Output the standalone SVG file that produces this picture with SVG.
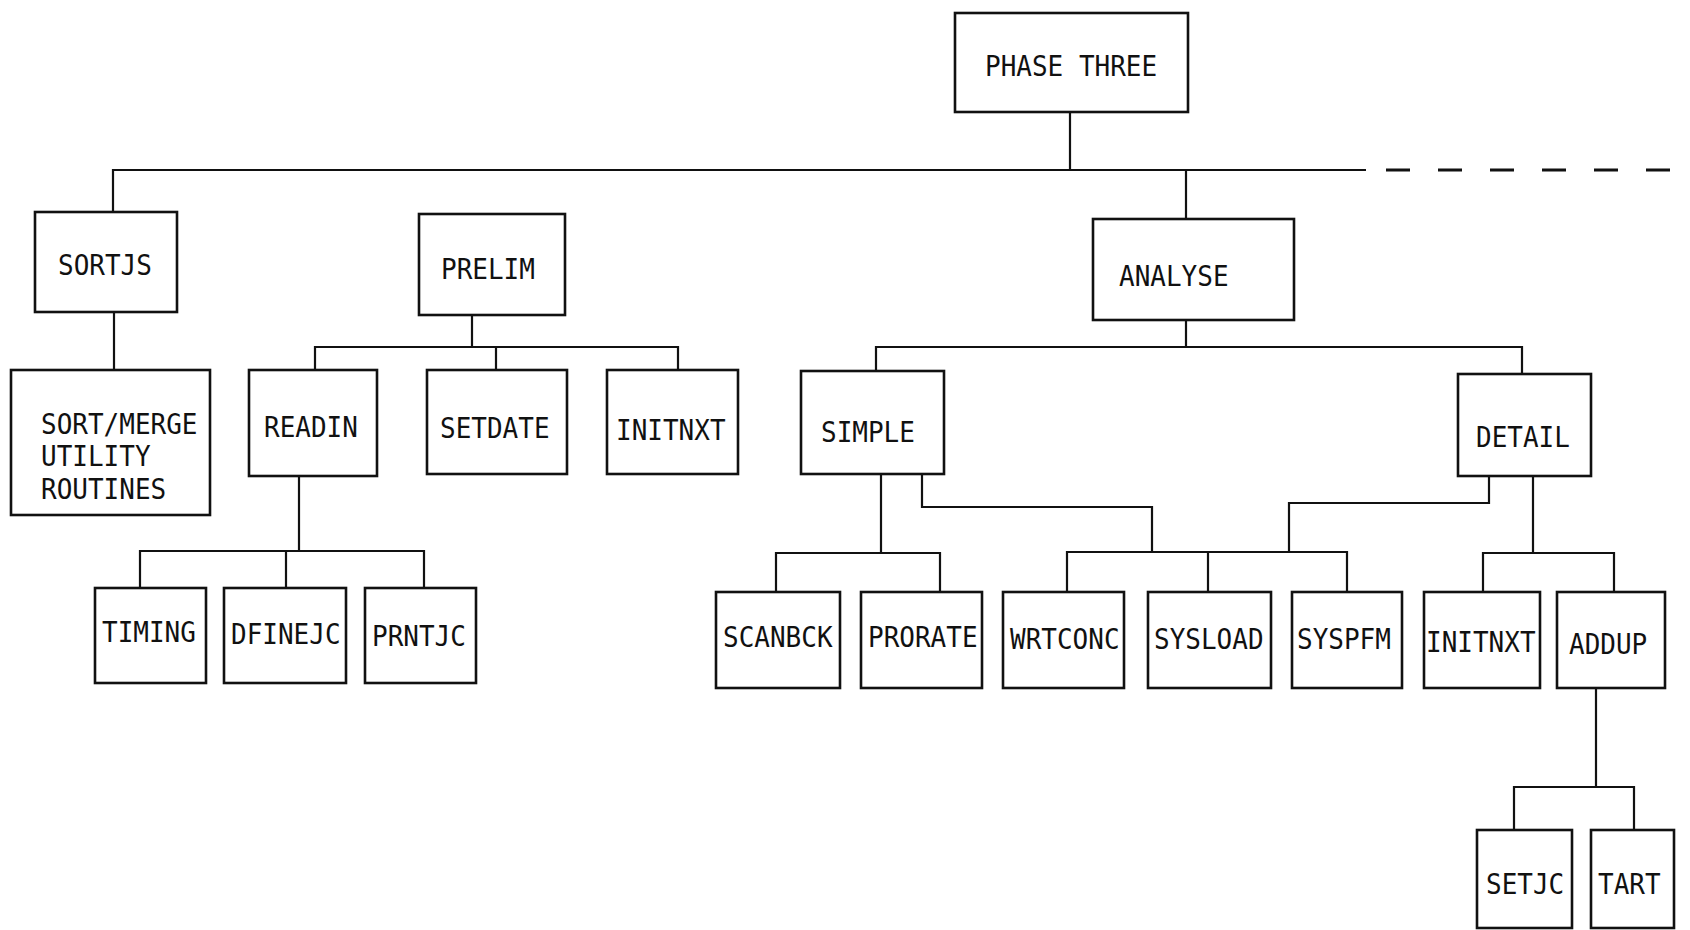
<svg xmlns="http://www.w3.org/2000/svg" width="1690" height="930" viewBox="0 0 1690 930">
  <style>
    .box { fill: #fff; stroke: #111; stroke-width: 2.6; }
    .ln { fill: none; stroke: #111; stroke-width: 2.2; stroke-linejoin: miter; }
    .dash { fill: none; stroke: #111; stroke-width: 3; stroke-dasharray: 24 28; }
    text { font-family: "DejaVu Sans Mono", "Liberation Mono", monospace; font-size: 26px; fill: #111;
           transform-box: fill-box; transform-origin: 50% 100%; transform: scaleY(1.1); }
  </style>
  <rect width="1690" height="930" fill="#fff"/>

  <!-- tree connectors -->
  <g id="connectors">
    <!-- PHASE THREE to first level -->
    <path class="ln" d="M1070,112 V170 M113,212 V170 H1366 M1186,170 V219"/>
    <path class="dash" d="M1386,170 H1690"/>
    <!-- SORTJS to utilities -->
    <path class="ln" d="M114,312 V370"/>
    <!-- PRELIM children -->
    <path class="ln" d="M472,315 V347 M315,370 V347 H678 V370 M496,347 V370"/>
    <!-- READIN children -->
    <path class="ln" d="M299,476 V551 M140,588 V551 H424 V588 M286,551 V588"/>
    <!-- ANALYSE children -->
    <path class="ln" d="M1186,320 V347 M876,371 V347 H1522 V374"/>
    <!-- SIMPLE children -->
    <path class="ln" d="M881,474 V553 M776,592 V553 H940 V592"/>
    <!-- shared routines under SIMPLE and DETAIL -->
    <path class="ln" d="M922,474 V507 H1152 V552 M1489,476 V503 H1289 V552"/>
    <path class="ln" d="M1067,592 V552 H1347 V592 M1208,552 V592"/>
    <!-- DETAIL children -->
    <path class="ln" d="M1533,476 V553 M1483,592 V553 H1614 V592"/>
    <!-- ADDUP children -->
    <path class="ln" d="M1596,688 V787 M1514,830 V787 H1634 V830"/>
  </g>

  <g id="phase-three"><rect class="box" x="955" y="13" width="233" height="99"/><text x="985" y="77">PHASE THREE</text></g>

  <g id="sortjs"><rect class="box" x="35" y="212" width="142" height="100"/><text x="58" y="276">SORTJS</text></g>
  <g id="prelim"><rect class="box" x="419" y="214" width="146" height="101"/><text x="441" y="280">PRELIM</text></g>
  <g id="analyse"><rect class="box" x="1093" y="219" width="201" height="101"/><text x="1119" y="287">ANALYSE</text></g>

  <g id="sort-merge"><rect class="box" x="11" y="370" width="199" height="145"/>
    <text x="41" y="435">SORT/MERGE</text><text x="41" y="467">UTILITY</text><text x="41" y="500">ROUTINES</text></g>
  <g id="readin"><rect class="box" x="249" y="370" width="128" height="106"/><text x="264" y="438">READIN</text></g>
  <g id="setdate"><rect class="box" x="427" y="370" width="140" height="104"/><text x="440" y="439">SETDATE</text></g>
  <g id="initnxt-1"><rect class="box" x="607" y="370" width="131" height="104"/><text x="616" y="441">INITNXT</text></g>
  <g id="simple"><rect class="box" x="801" y="371" width="143" height="103"/><text x="821" y="443">SIMPLE</text></g>
  <g id="detail"><rect class="box" x="1458" y="374" width="133" height="102"/><text x="1476" y="448">DETAIL</text></g>

  <g id="timing"><rect class="box" x="95" y="588" width="111" height="95"/><text x="102" y="643">TIMING</text></g>
  <g id="dfinejc"><rect class="box" x="224" y="588" width="122" height="95"/><text x="231" y="645">DFINEJC</text></g>
  <g id="prntjc"><rect class="box" x="365" y="588" width="111" height="95"/><text x="372" y="647">PRNTJC</text></g>

  <g id="scanbck"><rect class="box" x="716" y="592" width="124" height="96"/><text x="723" y="648">SCANBCK</text></g>
  <g id="prorate"><rect class="box" x="861" y="592" width="121" height="96"/><text x="868" y="648">PRORATE</text></g>
  <g id="wrtconc"><rect class="box" x="1003" y="592" width="121" height="96"/><text x="1010" y="650">WRTCONC</text></g>
  <g id="sysload"><rect class="box" x="1148" y="592" width="123" height="96"/><text x="1154" y="650">SYSLOAD</text></g>
  <g id="syspfm"><rect class="box" x="1292" y="592" width="110" height="96"/><text x="1297" y="650">SYSPFM</text></g>
  <g id="initnxt-2"><rect class="box" x="1424" y="592" width="116" height="96"/><text x="1426" y="653">INITNXT</text></g>
  <g id="addup"><rect class="box" x="1557" y="592" width="108" height="96"/><text x="1569" y="655">ADDUP</text></g>

  <g id="setjc"><rect class="box" x="1477" y="830" width="95" height="98"/><text x="1486" y="895">SETJC</text></g>
  <g id="tart"><rect class="box" x="1591" y="830" width="83" height="98"/><text x="1598" y="895">TART</text></g>
</svg>
